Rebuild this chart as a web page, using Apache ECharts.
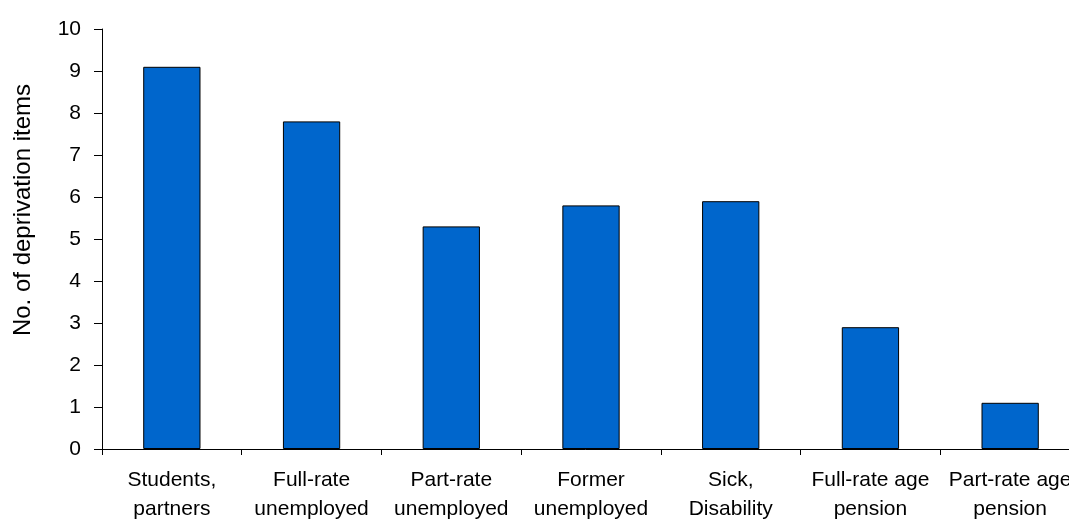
<!DOCTYPE html>
<html>
<head>
<meta charset="utf-8">
<script src="https://cdn.jsdelivr.net/npm/echarts@6/dist/echarts.min.js"></script>
<style>
html,body{margin:0;padding:0;background:#fff;}
#c{width:1069px;height:519px;}
</style>
</head>
<body>
<div id="c"></div>
<script>
var categories = [
  "Students,\npartners",
  "Full-rate\nunemployed",
  "Part-rate\nunemployed",
  "Former\nunemployed",
  "Sick,\nDisability",
  "Full-rate age\npension",
  "Part-rate age\npension"
];
var values = [9.1, 7.8, 5.3, 5.8, 5.9, 2.9, 1.1];
var yTicks = [0, 1, 2, 3, 4, 5, 6, 7, 8, 9, 10];
var yAxisTitle = "No. of deprivation items";

var chart = echarts.init(document.getElementById('c'));
var font = 'Liberation Sans, Arial, sans-serif';
chart.setOption({
  animation: false,
  backgroundColor: '#fff',
  grid: {left: 102, top: 29, bottom: 70, right: -11, containLabel: false, outerBoundsMode: 'none'},
  xAxis: {
    type: 'category',
    data: categories,
    boundaryGap: true,
    axisLine: {lineStyle: {color: '#000', width: 1}},
    axisTick: {show: true, length: 6, lineStyle: {color: '#000'}},
    axisLabel: {
      interval: 0, color: '#000', fontSize: 21, fontFamily: font,
      lineHeight: 29, margin: 17, align: 'center', hideOverlap: false
    }
  },
  yAxis: {
    type: 'value',
    min: yTicks[0], max: yTicks[yTicks.length - 1], interval: 1,
    splitLine: {show: false},
    axisLine: {show: true, lineStyle: {color: '#000', width: 1}},
    axisTick: {show: true, length: 8, lineStyle: {color: '#000'}},
    axisLabel: {color: '#000', fontSize: 21, fontFamily: font, margin: 21}
  },
  graphic: [{
    type: 'text',
    x: 23, y: 210,
    rotation: Math.PI / 2,
    style: {
      text: yAxisTitle,
      fontSize: 24, fontFamily: font, fill: '#000',
      align: 'center', verticalAlign: 'middle'
    }
  }],
  series: [{
    type: 'bar',
    data: values,
    barWidth: '41%',
    itemStyle: {color: '#0066CC', borderColor: '#000', borderWidth: 1}
  }]
});
</script>
</body>
</html>
